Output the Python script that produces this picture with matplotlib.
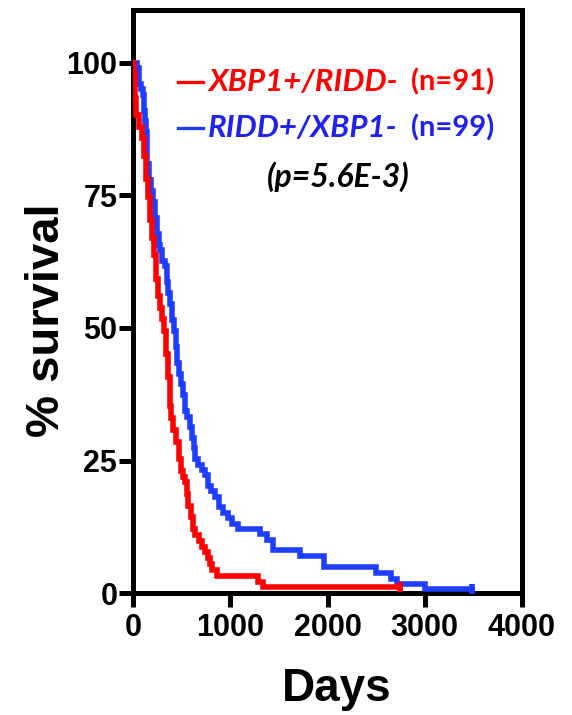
import matplotlib
matplotlib.use("Agg")
import matplotlib.pyplot as plt
from matplotlib.lines import Line2D

# ---- data ----
red_days = [0, 10, 20, 30, 60, 90, 110, 130, 150, 170, 190, 210, 230, 250, 280, 300,
            320, 340, 360, 375, 385, 410, 440, 470, 490, 510, 530, 550, 565, 590, 615,
            640, 680, 710, 740, 770, 790, 810, 860, 1280, 1340, 2750]
red_pct = [100, 97.8, 93.4, 90.1, 87.9, 85.7, 82.4, 78.0, 74.7, 70.3, 67.0, 63.7, 59.3,
           56.0, 53.8, 51.6, 49.5, 45.1, 40.7, 35.2, 33.0, 30.8, 28.6, 25.3, 23.1, 22.0,
           20.9, 18.7, 16.5, 14.3, 12.1, 11.0, 9.9, 8.8, 7.7, 6.6, 5.5, 4.4, 3.3, 2.2,
           1.1, 1.1]

blue_days = [0, 40, 60, 80, 100, 110, 120, 130, 145, 160, 180, 200, 220, 240, 260, 275,
             300, 330, 345, 360, 380, 400, 420, 440, 455, 470, 490, 510, 530, 555, 580,
             600, 620, 640, 670, 710, 740, 770, 800, 840, 880, 920, 980, 1020, 1080, 1300,
             1380, 1440, 1720, 1960, 2500, 2650, 2720, 3000, 3490]
blue_pct = [100, 99.0, 96.0, 95.0, 93.9, 90.9, 88.9, 86.9, 80.8, 77.8, 75.8, 73.7, 70.7,
            67.7, 65.7, 64.6, 62.6, 61.6, 58.6, 56.6, 54.5, 51.5, 49.5, 46.5, 43.4, 41.4,
            39.4, 37.4, 34.3, 33.3, 31.3, 29.3, 27.3, 25.3, 24.2, 23.2, 22.2, 20.2, 19.2,
            18.2, 16.2, 15.2, 14.1, 13.1, 12.1, 11.1, 10.1, 8.1, 7.1, 4.9, 3.8, 2.7, 1.8,
            0.9, 0.9]

x_ticks = [0, 1000, 2000, 3000, 4000]
y_ticks = [0, 25, 50, 75, 100]
series_labels = ["XBP1+/RIDD-", "RIDD+/XBP1-"]
series_n = ["(n=91)", "(n=99)"]
p_text = "(p=5.6E-3)"

RED = "#ff0000"
BLUE = "#1f3dff"
BLUE_TXT = "#2222ee"

W, H = 572, 715
fig = plt.figure(figsize=(W / 100, H / 100), dpi=100)
ax = fig.add_axes([133.3 / W, 1 - 593.3 / H, (521.7 - 133.3) / W, (593.3 - 9.5) / H])

ax.step(blue_days, blue_pct, where="post", color=BLUE, lw=4.0, zorder=3,
        solid_joinstyle="miter")
ax.step(red_days, red_pct, where="post", color=RED, lw=4.0, zorder=4,
        solid_joinstyle="miter")
# censor marks at curve ends
ax.plot([blue_days[-1]], [blue_pct[-1]], marker="|", ms=7, mew=4.0, color=BLUE, zorder=3, clip_on=False)
ax.plot([red_days[-1]], [red_pct[-1]], marker="|", ms=7, mew=4.0, color=RED, zorder=4, clip_on=False)

ax.set_xlim(0, 4000)
ax.set_ylim(0, 110)
ax.set_xticks(x_ticks)
ax.set_yticks(y_ticks)
ax.set_xticklabels([str(v) for v in x_ticks])
ax.set_yticklabels([str(v) for v in y_ticks])

for s in ax.spines.values():
    s.set_linewidth(3.6)
    s.set_color("black")
ax.tick_params(axis="both", length=10, width=3.6, direction="out", colors="black")
ax.tick_params(axis="x", pad=4)
ax.tick_params(axis="y", pad=1.5)
for lab in ax.get_xticklabels() + ax.get_yticklabels():
    lab.set_fontfamily("Liberation Sans")
    lab.set_fontweight("bold")
    lab.set_fontsize(22)

fig.text(337 / W, 1 - 689 / H, "Days", ha="center", va="center",
         fontfamily="Liberation Sans", fontweight="bold", fontsize=33)
fig.text(47 / W, 1 - 320 / H, "% survival", ha="center", va="center", rotation=90,
         fontfamily="Liberation Sans", fontweight="bold", fontsize=34)

# legend drawn as text pieces
def px(x, y):
    return x / W, 1 - y / H

legend_rows = [(82, RED, RED), (128, BLUE, BLUE_TXT)]
for (yy, lc, tc), lab, nn in zip(legend_rows, series_labels, series_n):
    x0, y0 = px(178, yy)
    x1, _ = px(203, yy)
    fig.add_artist(Line2D([x0, x1], [y0, y0], color=lc, lw=2.4, transform=fig.transFigure))
    fig.text(*px(208, yy), lab, ha="left", va="center", color=tc, fontfamily="Lato",
             fontweight="bold", fontstyle="italic", fontsize=22.5)
    fig.text(*px(494, yy), nn, ha="right", va="center", color=tc, fontfamily="Lato",
             fontweight="bold", fontsize=21)
fig.text(*px(338, 177), p_text, ha="center", va="center", color="black", fontfamily="Lato",
         fontweight="bold", fontstyle="italic", fontsize=23)

fig.savefig("out.png", dpi=100, facecolor="white")
